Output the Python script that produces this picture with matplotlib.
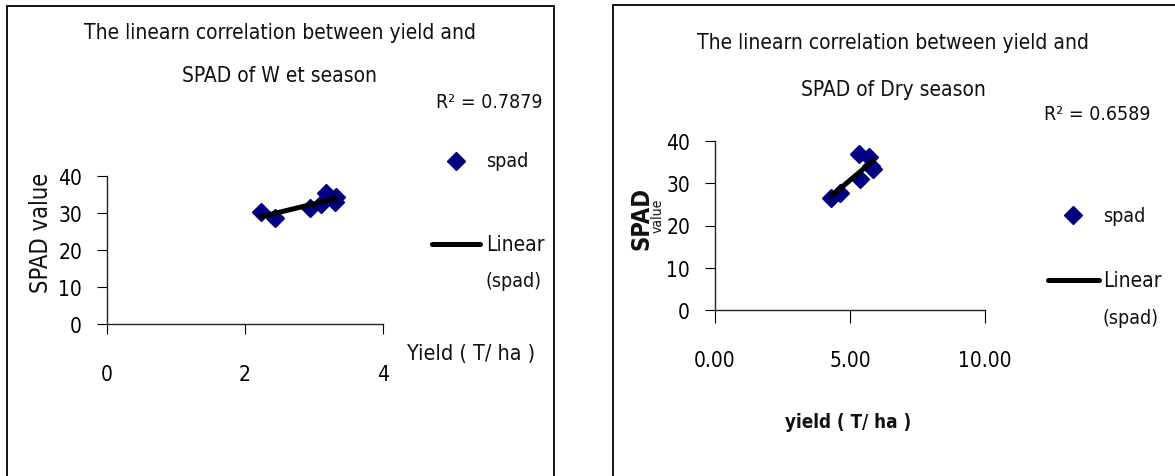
import matplotlib.pyplot as plt
import numpy as np
from matplotlib.patches import Rectangle
from matplotlib.lines import Line2D

# wet season (left chart)
wet_yield = [2.23, 2.43, 2.94, 3.10, 3.17, 3.30, 3.32]
wet_spad = [30.2, 28.6, 31.3, 32.4, 35.4, 32.9, 34.2]
wet_r2 = "0.7879"

# dry season (right chart)
dry_yield = [4.30, 4.62, 5.33, 5.38, 5.72, 5.78, 5.86]
dry_spad = [26.6, 27.8, 36.9, 30.9, 36.1, 34.1, 33.3]
dry_r2 = "0.6589"

wet_xticks = [0, 2, 4]
dry_xticks = [0, 5, 10]
dry_xticklabels = ["0.00", "5.00", "10.00"]
yticks = [0, 10, 20, 30, 40]

# narrow look of the original (Arial Narrow-ish)
plt.rcParams['font.family'] = ['DejaVu Sans']
plt.rcParams['font.stretch'] = 'condensed'

W, H = 1175, 477
NAVY = '#000080'

fig = plt.figure(figsize=(W / 100, H / 100), dpi=100)


def fx(x):
    return x / W


def fy(y):
    return 1 - y / H


def text(x, y, s, **kw):
    kw.setdefault('ha', 'left')
    kw.setdefault('va', 'center')
    kw.setdefault('color', '#111111')
    fig.text(fx(x), fy(y), s, **kw)


# outer frames of the two pasted charts
fig.add_artist(Rectangle((fx(7), -0.05), fx(554) - fx(7), fy(7) + 0.05,
                         transform=fig.transFigure, fill=False, lw=1.3,
                         ec='black', clip_on=False))
fig.add_artist(Rectangle((fx(613), -0.05), 0.5, fy(6) + 0.05,
                         transform=fig.transFigure, fill=False, lw=1.3,
                         ec='black', clip_on=False))


def make_axes(x0, x1, y0, y1, xlim):
    ax = fig.add_axes([fx(x0), fy(y0), fx(x1) - fx(x0), (y0 - y1) / H])
    ax.set_xlim(*xlim)
    ax.set_ylim(0, 40)
    for s in ['top', 'right']:
        ax.spines[s].set_visible(False)
    for s in ['left', 'bottom']:
        ax.spines[s].set_linewidth(1.0)
        ax.spines[s].set_color('#222222')
    ax.set_yticks(yticks)
    ax.patch.set_alpha(0)
    return ax


def draw_series(ax, x, y):
    x = np.array(x)
    y = np.array(y)
    ax.plot(x, y, 'D', color=NAVY, ms=9, mec=NAVY, clip_on=False, zorder=3)
    k, b = np.polyfit(x, y, 1)
    xs = np.array([x.min(), x.max()])
    ax.plot(xs, k * xs + b, color='black', lw=3.6, solid_capstyle='round', zorder=4)


# ---------- left: wet season ----------
ax1 = make_axes(107, 383, 325, 177, (0, 4))
draw_series(ax1, wet_yield, wet_spad)
ax1.set_xticks(wet_xticks)
ax1.tick_params(axis='x', direction='out', length=7, pad=22, labelsize=15)
ax1.tick_params(axis='y', direction='out', length=7, pad=11, labelsize=15)

text(280, 33, "The linearn correlation between yield and", ha='center', fontsize=15)
text(280, 76, "SPAD of W et season", ha='center', fontsize=15)
text(436, 103, "R\u00b2 = " + wet_r2, fontsize=14)
text(41, 233, "SPAD value", ha='center', rotation=90, fontsize=17)
text(407, 354, "Yield ( T/ ha )", fontsize=15.5)

# legend
fig.add_artist(Line2D([fx(456)], [fy(162)], marker='D', ms=9, color=NAVY,
                      ls='none', transform=fig.transFigure))
text(486, 162, "spad", fontsize=14)
fig.add_artist(Line2D([fx(432), fx(480)], [fy(245), fy(245)], color='black',
                      lw=3.6, solid_capstyle='round', transform=fig.transFigure))
text(486, 245, "Linear", fontsize=15)
text(486, 282, "(spad)", fontsize=14)

# ---------- right: dry season ----------
ax2 = make_axes(715, 985, 311, 142, (0, 10))
draw_series(ax2, dry_yield, dry_spad)
ax2.set_xticks(dry_xticks)
ax2.set_xticklabels(dry_xticklabels)
ax2.tick_params(axis='x', direction='out', length=9, pad=20, labelsize=15)
ax2.tick_params(axis='y', direction='out', length=7, pad=11, labelsize=15)

text(893, 43, "The linearn correlation between yield and", ha='center', fontsize=15)
text(893, 90, "SPAD of Dry season", ha='center', fontsize=15)
text(1044, 115, "R\u00b2 = " + dry_r2, fontsize=14)
text(641, 219, "SPAD", ha='center', rotation=90, fontsize=17, fontweight='bold')
text(658, 216, "value", ha='center', rotation=90, fontsize=10)
text(848, 423, "yield ( T/ ha )", ha='center', fontsize=13.5, fontweight='bold')

fig.add_artist(Line2D([fx(1073)], [fy(216)], marker='D', ms=9, color=NAVY,
                      ls='none', transform=fig.transFigure))
text(1103, 216, "spad", fontsize=14)
fig.add_artist(Line2D([fx(1048), fx(1099)], [fy(281), fy(281)], color='black',
                      lw=3.6, solid_capstyle='round', transform=fig.transFigure))
text(1103, 281, "Linear", fontsize=15)
text(1103, 319, "(spad)", fontsize=14)

fig.savefig('out.png', dpi=100)
